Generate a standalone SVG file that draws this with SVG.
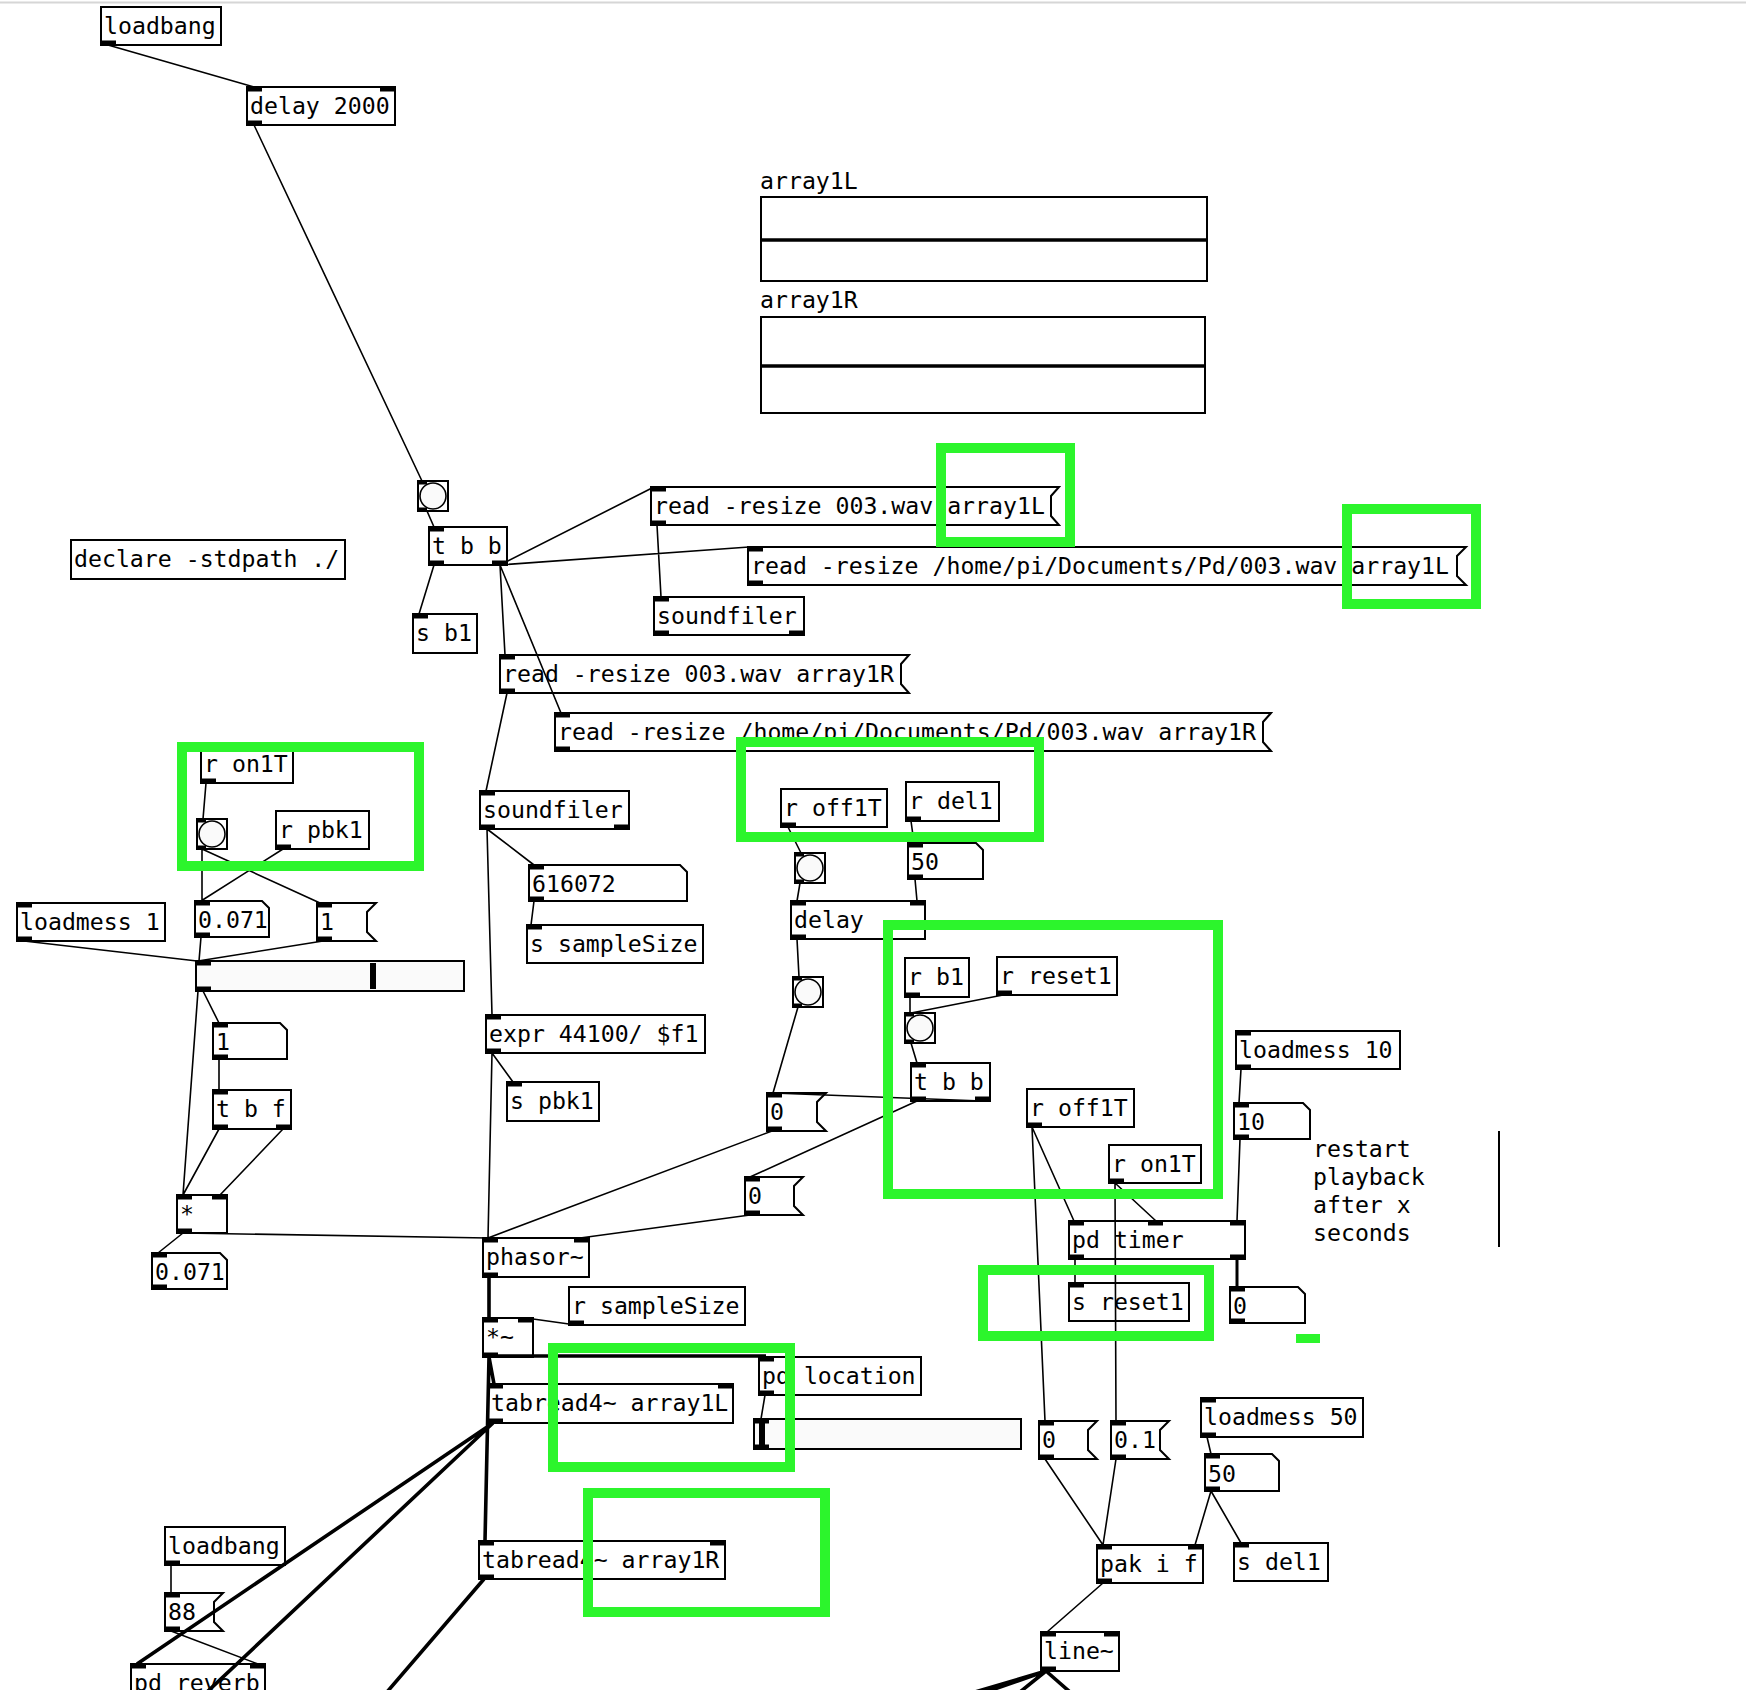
<svg xmlns="http://www.w3.org/2000/svg" width="1746" height="1690" viewBox="0 0 1746 1690">
<style>
.b{fill:none;stroke:#000;stroke-width:2}
.t{font-family:"DejaVu Sans Mono","Liberation Mono",monospace;font-size:23.2px;fill:#000;transform:translateY(1px)}
.io{fill:#000}
.c{stroke:#000;stroke-width:1.6;fill:none}
.s{stroke:#000;stroke-width:3.6;fill:none}
.g{fill:none;stroke:#2cf52c;stroke-width:10}
.bg{fill:#fafafa;stroke:#000;stroke-width:1.6}
.hs{fill:#fafafa;stroke:#000;stroke-width:2}
</style>
<rect x="0" y="0" width="1746" height="1690" fill="#fff"/>
<rect x="0" y="1.5" width="1746" height="2" fill="#d6d6d6"/>
<g id="nodes">
<g id="loadbang1"><rect class="b" x="101" y="7" width="120" height="38"/><text class="t" x="104" y="33">loadbang</text><rect class="io" x="101" y="40.5" width="15" height="5"/></g>
<g id="delay2000"><rect class="b" x="247" y="87" width="148" height="38"/><text class="t" x="250" y="113">delay 2000</text><rect class="io" x="247" y="86.5" width="15" height="5"/><rect class="io" x="380" y="86.5" width="15" height="5"/><rect class="io" x="247" y="120.5" width="15" height="5"/></g>
<g id="graph1L"><text class="t" x="760" y="188">array1L</text><rect class="b" x="761" y="197" width="446" height="84"/><line x1="761" y1="240" x2="1207" y2="240" stroke="#000" stroke-width="3.5"/></g>
<g id="graph1R"><text class="t" x="760" y="307">array1R</text><rect class="b" x="761" y="317" width="444" height="96"/><line x1="761" y1="366" x2="1205" y2="366" stroke="#000" stroke-width="3.5"/></g>
<g id="bng1"><rect class="b" x="418" y="481" width="30" height="30"/><circle class="bg" cx="433" cy="496" r="13"/><rect class="io" x="418" y="480.5" width="9" height="4"/><rect class="io" x="418" y="507.5" width="9" height="4"/></g>
<g id="tbb1"><rect class="b" x="429" y="527" width="78" height="38"/><text class="t" x="432" y="553">t b b</text><rect class="io" x="429" y="526.5" width="15" height="5"/><rect class="io" x="429" y="560.5" width="15" height="5"/><rect class="io" x="492" y="560.5" width="15" height="5"/></g>
<g id="sb1"><rect class="b" x="413" y="614" width="64" height="39"/><text class="t" x="416" y="640">s b1</text><rect class="io" x="413" y="613.5" width="15" height="5"/></g>
<g id="declare"><rect class="b" x="71" y="540" width="274" height="39"/><text class="t" x="74" y="566">declare -stdpath ./</text></g>
<g id="msg1"><path class="b" d="M651,487 H1059 L1051,496 V516 L1059,525 H651 Z"/><text class="t" x="654" y="513">read -resize 003.wav array1L</text><rect class="io" x="651" y="486.5" width="15" height="5"/><rect class="io" x="651" y="520.5" width="15" height="5"/></g>
<g id="msg2"><path class="b" d="M748,547 H1466 L1457,556 V576 L1466,585 H748 Z"/><text class="t" x="751" y="573">read -resize /home/pi/Documents/Pd/003.wav array1L</text><rect class="io" x="748" y="546.5" width="15" height="5"/><rect class="io" x="748" y="580.5" width="15" height="5"/></g>
<g id="soundfilerR"><rect class="b" x="654" y="597" width="150" height="38"/><text class="t" x="657" y="623">soundfiler</text><rect class="io" x="654" y="596.5" width="15" height="5"/><rect class="io" x="654" y="630.5" width="15" height="5"/><rect class="io" x="789" y="630.5" width="15" height="5"/></g>
<g id="msg3"><path class="b" d="M500,655 H909 L901,664 V684 L909,693 H500 Z"/><text class="t" x="503" y="681">read -resize 003.wav array1R</text><rect class="io" x="500" y="654.5" width="15" height="5"/><rect class="io" x="500" y="688.5" width="15" height="5"/></g>
<g id="msg4"><path class="b" d="M555,713 H1271 L1263,722 V742 L1271,751 H555 Z"/><text class="t" x="558" y="739">read -resize /home/pi/Documents/Pd/003.wav array1R</text><rect class="io" x="555" y="712.5" width="15" height="5"/><rect class="io" x="555" y="746.5" width="15" height="5"/></g>
<g id="soundfilerL"><rect class="b" x="480" y="791" width="149" height="38"/><text class="t" x="483" y="817">soundfiler</text><rect class="io" x="480" y="790.5" width="15" height="5"/><rect class="io" x="480" y="824.5" width="15" height="5"/><rect class="io" x="614" y="824.5" width="15" height="5"/></g>
<g id="atom616072"><path class="b" d="M529,865 H680 L687,872 V901 H529 Z"/><text class="t" x="532" y="891">616072</text><rect class="io" x="529" y="864.5" width="15" height="5"/><rect class="io" x="529" y="896.5" width="15" height="5"/></g>
<g id="sSampleSize"><rect class="b" x="527" y="925" width="176" height="38"/><text class="t" x="530" y="951">s sampleSize</text><rect class="io" x="527" y="924.5" width="15" height="5"/></g>
<g id="ron1T"><rect class="b" x="201" y="745" width="92" height="38"/><text class="t" x="204" y="771">r on1T</text><rect class="io" x="201" y="778.5" width="15" height="5"/></g>
<g id="bng2"><rect class="b" x="197" y="819" width="30" height="30"/><circle class="bg" cx="212" cy="834" r="13"/><rect class="io" x="197" y="818.5" width="9" height="4"/><rect class="io" x="197" y="845.5" width="9" height="4"/></g>
<g id="rpbk1"><rect class="b" x="276" y="811" width="93" height="38"/><text class="t" x="279" y="837">r pbk1</text><rect class="io" x="276" y="844.5" width="15" height="5"/></g>
<g id="loadmess1"><rect class="b" x="17" y="903" width="148" height="38"/><text class="t" x="20" y="929">loadmess 1</text><rect class="io" x="17" y="902.5" width="15" height="5"/><rect class="io" x="17" y="936.5" width="15" height="5"/></g>
<g id="atom0071"><path class="b" d="M195,901 H262 L269,908 V937 H195 Z"/><text class="t" x="198" y="927">0.071</text><rect class="io" x="195" y="900.5" width="15" height="5"/><rect class="io" x="195" y="932.5" width="15" height="5"/></g>
<g id="msgOne"><path class="b" d="M317,903 H376 L367,912 V932 L376,941 H317 Z"/><text class="t" x="320" y="929">1</text><rect class="io" x="317" y="902.5" width="15" height="5"/><rect class="io" x="317" y="936.5" width="15" height="5"/></g>
<g id="hslider1"><rect class="hs" x="196" y="961" width="268" height="30"/><rect class="io" x="370" y="963" width="6" height="26"/><rect class="io" x="196" y="960.5" width="15" height="5"/><rect class="io" x="196" y="986.5" width="15" height="5"/></g>
<g id="atomOne"><path class="b" d="M213,1023 H280 L287,1030 V1059 H213 Z"/><text class="t" x="216" y="1049">1</text><rect class="io" x="213" y="1022.5" width="15" height="5"/><rect class="io" x="213" y="1054.5" width="15" height="5"/></g>
<g id="tbf"><rect class="b" x="213" y="1090" width="78" height="39"/><text class="t" x="216" y="1116">t b f</text><rect class="io" x="213" y="1089.5" width="15" height="5"/><rect class="io" x="213" y="1124.5" width="15" height="5"/><rect class="io" x="276" y="1124.5" width="15" height="5"/></g>
<g id="mul"><rect class="b" x="177" y="1195" width="50" height="38"/><text class="t" x="180" y="1221">*</text><rect class="io" x="177" y="1194.5" width="15" height="5"/><rect class="io" x="212" y="1194.5" width="15" height="5"/><rect class="io" x="177" y="1228.5" width="15" height="5"/></g>
<g id="atom0071b"><path class="b" d="M152,1253 H220 L227,1260 V1289 H152 Z"/><text class="t" x="155" y="1279">0.071</text><rect class="io" x="152" y="1252.5" width="15" height="5"/><rect class="io" x="152" y="1284.5" width="15" height="5"/></g>
<g id="expr"><rect class="b" x="486" y="1015" width="219" height="38"/><text class="t" x="489" y="1041">expr 44100/ $f1</text><rect class="io" x="486" y="1014.5" width="15" height="5"/><rect class="io" x="486" y="1048.5" width="15" height="5"/></g>
<g id="spbk1"><rect class="b" x="507" y="1082" width="92" height="39"/><text class="t" x="510" y="1108">s pbk1</text><rect class="io" x="507" y="1081.5" width="15" height="5"/></g>
<g id="phasor"><rect class="b" x="483" y="1238" width="106" height="39"/><text class="t" x="486" y="1264">phasor~</text><rect class="io" x="483" y="1237.5" width="15" height="5"/><rect class="io" x="574" y="1237.5" width="15" height="5"/><rect class="io" x="483" y="1272.5" width="15" height="5"/></g>
<g id="roff1T"><rect class="b" x="781" y="789" width="106" height="38"/><text class="t" x="784" y="815">r off1T</text><rect class="io" x="781" y="822.5" width="15" height="5"/></g>
<g id="rdel1"><rect class="b" x="906" y="782" width="93" height="39"/><text class="t" x="909" y="808">r del1</text><rect class="io" x="906" y="816.5" width="15" height="5"/></g>
<g id="bng3"><rect class="b" x="795" y="853" width="30" height="30"/><circle class="bg" cx="810" cy="868" r="13"/><rect class="io" x="795" y="852.5" width="9" height="4"/><rect class="io" x="795" y="879.5" width="9" height="4"/></g>
<g id="atom50"><path class="b" d="M908,843 H976 L983,850 V879 H908 Z"/><text class="t" x="911" y="869">50</text><rect class="io" x="908" y="842.5" width="15" height="5"/><rect class="io" x="908" y="874.5" width="15" height="5"/></g>
<g id="delay"><rect class="b" x="791" y="901" width="134" height="38"/><text class="t" x="794" y="927">delay</text><rect class="io" x="791" y="900.5" width="15" height="5"/><rect class="io" x="910" y="900.5" width="15" height="5"/><rect class="io" x="791" y="934.5" width="15" height="5"/></g>
<g id="bng4"><rect class="b" x="793" y="977" width="30" height="30"/><circle class="bg" cx="808" cy="992" r="13"/><rect class="io" x="793" y="976.5" width="9" height="4"/><rect class="io" x="793" y="1003.5" width="9" height="4"/></g>
<g id="rb1"><rect class="b" x="905" y="958" width="64" height="39"/><text class="t" x="908" y="984">r b1</text><rect class="io" x="905" y="992.5" width="15" height="5"/></g>
<g id="rreset1"><rect class="b" x="997" y="957" width="120" height="38"/><text class="t" x="1000" y="983">r reset1</text><rect class="io" x="997" y="990.5" width="15" height="5"/></g>
<g id="bng5"><rect class="b" x="905" y="1013" width="30" height="30"/><circle class="bg" cx="920" cy="1028" r="13"/><rect class="io" x="905" y="1012.5" width="9" height="4"/><rect class="io" x="905" y="1039.5" width="9" height="4"/></g>
<g id="tbb2"><rect class="b" x="911" y="1063" width="79" height="38"/><text class="t" x="914" y="1089">t b b</text><rect class="io" x="911" y="1062.5" width="15" height="5"/><rect class="io" x="911" y="1096.5" width="15" height="5"/><rect class="io" x="975" y="1096.5" width="15" height="5"/></g>
<g id="msg0a"><path class="b" d="M767,1093 H826 L817,1102 V1122 L826,1131 H767 Z"/><text class="t" x="770" y="1119">0</text><rect class="io" x="767" y="1092.5" width="15" height="5"/><rect class="io" x="767" y="1126.5" width="15" height="5"/></g>
<g id="msg0b"><path class="b" d="M745,1177 H803 L794,1186 V1206 L803,1215 H745 Z"/><text class="t" x="748" y="1203">0</text><rect class="io" x="745" y="1176.5" width="15" height="5"/><rect class="io" x="745" y="1210.5" width="15" height="5"/></g>
<g id="roff1T2"><rect class="b" x="1027" y="1089" width="107" height="38"/><text class="t" x="1030" y="1115">r off1T</text><rect class="io" x="1027" y="1122.5" width="15" height="5"/></g>
<g id="ron1T2"><rect class="b" x="1109" y="1145" width="92" height="38"/><text class="t" x="1112" y="1171">r on1T</text><rect class="io" x="1109" y="1178.5" width="15" height="5"/></g>
<g id="loadmess10"><rect class="b" x="1236" y="1031" width="164" height="38"/><text class="t" x="1239" y="1057">loadmess 10</text><rect class="io" x="1236" y="1030.5" width="15" height="5"/><rect class="io" x="1236" y="1064.5" width="15" height="5"/></g>
<g id="atom10"><path class="b" d="M1234,1103 H1303 L1310,1110 V1139 H1234 Z"/><text class="t" x="1237" y="1129">10</text><rect class="io" x="1234" y="1102.5" width="15" height="5"/><rect class="io" x="1234" y="1134.5" width="15" height="5"/></g>
<g id="comment"><text class="t" x="1313" y="1156">restart</text><text class="t" x="1313" y="1184">playback</text><text class="t" x="1313" y="1212">after x</text><text class="t" x="1313" y="1240">seconds</text><line x1="1499" y1="1131" x2="1499" y2="1247" stroke="#000" stroke-width="2"/></g>
<g id="pdtimer"><rect class="b" x="1069" y="1221" width="176" height="38"/><text class="t" x="1072" y="1247">pd timer</text><rect class="io" x="1069" y="1220.5" width="15" height="5"/><rect class="io" x="1148" y="1220.5" width="15" height="5"/><rect class="io" x="1230" y="1220.5" width="15" height="5"/><rect class="io" x="1069" y="1254.5" width="15" height="5"/><rect class="io" x="1230" y="1254.5" width="15" height="5"/></g>
<g id="sreset1"><rect class="b" x="1069" y="1283" width="120" height="38"/><text class="t" x="1072" y="1309">s reset1</text><rect class="io" x="1069" y="1282.5" width="15" height="5"/></g>
<g id="atom0r"><path class="b" d="M1230,1287 H1298 L1305,1294 V1323 H1230 Z"/><text class="t" x="1233" y="1313">0</text><rect class="io" x="1230" y="1286.5" width="15" height="5"/><rect class="io" x="1230" y="1318.5" width="15" height="5"/></g>
<g id="msg0c"><path class="b" d="M1039,1421 H1097 L1088,1430 V1450 L1097,1459 H1039 Z"/><text class="t" x="1042" y="1447">0</text><rect class="io" x="1039" y="1420.5" width="15" height="5"/><rect class="io" x="1039" y="1454.5" width="15" height="5"/></g>
<g id="msg01"><path class="b" d="M1111,1421 H1169 L1160,1430 V1450 L1169,1459 H1111 Z"/><text class="t" x="1114" y="1447">0.1</text><rect class="io" x="1111" y="1420.5" width="15" height="5"/><rect class="io" x="1111" y="1454.5" width="15" height="5"/></g>
<g id="loadmess50"><rect class="b" x="1201" y="1398" width="162" height="39"/><text class="t" x="1204" y="1424">loadmess 50</text><rect class="io" x="1201" y="1397.5" width="15" height="5"/><rect class="io" x="1201" y="1432.5" width="15" height="5"/></g>
<g id="atom50b"><path class="b" d="M1205,1454 H1272 L1279,1461 V1491 H1205 Z"/><text class="t" x="1208" y="1481">50</text><rect class="io" x="1205" y="1453.5" width="15" height="5"/><rect class="io" x="1205" y="1486.5" width="15" height="5"/></g>
<g id="pakif"><rect class="b" x="1097" y="1545" width="106" height="38"/><text class="t" x="1100" y="1571">pak i f</text><rect class="io" x="1097" y="1544.5" width="15" height="5"/><rect class="io" x="1188" y="1544.5" width="15" height="5"/><rect class="io" x="1097" y="1578.5" width="15" height="5"/></g>
<g id="sdel1"><rect class="b" x="1234" y="1543" width="94" height="38"/><text class="t" x="1237" y="1569">s del1</text><rect class="io" x="1234" y="1542.5" width="15" height="5"/></g>
<g id="line"><rect class="b" x="1041" y="1632" width="78" height="39"/><text class="t" x="1044" y="1658">line~</text><rect class="io" x="1041" y="1631.5" width="15" height="5"/><rect class="io" x="1104" y="1631.5" width="15" height="5"/><rect class="io" x="1041" y="1666.5" width="15" height="5"/></g>
<g id="mulsig"><rect class="b" x="483" y="1318" width="50" height="39"/><text class="t" x="486" y="1344">*~</text><rect class="io" x="483" y="1317.5" width="15" height="5"/><rect class="io" x="518" y="1317.5" width="15" height="5"/><rect class="io" x="483" y="1352.5" width="15" height="5"/></g>
<g id="rSampleSize"><rect class="b" x="569" y="1287" width="176" height="38"/><text class="t" x="572" y="1313">r sampleSize</text><rect class="io" x="569" y="1320.5" width="15" height="5"/></g>
<g id="tabreadL"><rect class="b" x="488" y="1384" width="245" height="39"/><text class="t" x="491" y="1410">tabread4~ array1L</text><rect class="io" x="488" y="1383.5" width="15" height="5"/><rect class="io" x="718" y="1383.5" width="15" height="5"/><rect class="io" x="488" y="1418.5" width="15" height="5"/></g>
<g id="pdlocation"><rect class="b" x="759" y="1357" width="162" height="38"/><text class="t" x="762" y="1383">pd location</text><rect class="io" x="759" y="1356.5" width="15" height="5"/><rect class="io" x="759" y="1390.5" width="15" height="5"/></g>
<g id="hslider2"><rect class="hs" x="754" y="1419" width="267" height="30"/><rect class="io" x="759" y="1421" width="6" height="26"/><rect class="io" x="754" y="1418.5" width="15" height="5"/><rect class="io" x="754" y="1444.5" width="15" height="5"/></g>
<g id="tabreadR"><rect class="b" x="479" y="1541" width="246" height="38"/><text class="t" x="482" y="1567">tabread4~ array1R</text><rect class="io" x="479" y="1540.5" width="15" height="5"/><rect class="io" x="710" y="1540.5" width="15" height="5"/><rect class="io" x="479" y="1574.5" width="15" height="5"/></g>
<g id="loadbang2"><rect class="b" x="165" y="1527" width="120" height="38"/><text class="t" x="168" y="1553">loadbang</text><rect class="io" x="165" y="1560.5" width="15" height="5"/></g>
<g id="msg88"><path class="b" d="M165,1593 H223 L214,1602 V1622 L223,1631 H165 Z"/><text class="t" x="168" y="1619">88</text><rect class="io" x="165" y="1592.5" width="15" height="5"/><rect class="io" x="165" y="1626.5" width="15" height="5"/></g>
<g id="pdreverb"><rect class="b" x="131" y="1664" width="134" height="40"/><text class="t" x="134" y="1690">pd reverb</text><rect class="io" x="131" y="1663.5" width="15" height="5"/><rect class="io" x="250" y="1663.5" width="15" height="5"/></g>
</g>
<g id="connectors">
<path class="c" d="M108,45 L254,87 M254,125 L422,481 M427,511 L434,527 M434,565 L419,614 M500,565 L652,488 M500,565 L749,547 M500,565 L505,655 M500,565 L561,713 M657,525 L661,597 M507,693 L486,791 M487,829 L534,865 M487,829 L492,1015 M534,901 L531,925 M206,783 L203,819 M202,849 L202,901 M202,849 L320,903 M283,849 L201,901 M24,941 L197,961 M201,937 L199,961 M323,941 L198,961 M203,991 L219,1023 M198,991 L183,1195 M219,1059 L219,1090 M219,1129 L183,1195 M283,1129 L220,1195 M183,1233 L158,1253 M183,1233 L488,1238 M492,1053 L513,1082 M492,1053 L488,1238 M772,1131 L488,1238 M750,1215 L580,1238 M788,827 L801,853 M911,821 L914,843 M800,883 L797,901 M915,879 L917,901 M797,939 L799,977 M798,1007 L773,1093 M910,997 L910,1013 M1003,995 L911,1013 M911,1043 L917,1063 M982,1101 L773,1093 M917,1101 L750,1177 M1032,1127 L1074,1221 M1032,1127 L1045,1421 M1115,1183 L1156,1221 M1115,1183 L1116,1421 M1241,1069 L1239,1103 M1240,1139 L1237,1221 M1075,1259 L1075,1283 M1045,1459 L1103,1545 M1116,1459 L1103,1545 M1207,1437 L1211,1454 M1211,1491 L1195,1545 M1211,1491 L1241,1543 M1103,1583 L1047,1632 M765,1395 L761,1419 M576,1325 L526,1318 M171,1565 L171,1593 M171,1631 L258,1664"/>
<path d="M1237,1259 L1237,1287" stroke="#000" stroke-width="3" fill="none"/>
<path class="s" d="M489,1277 L489,1318 M489,1357 L494,1384 M489,1357 L485,1541 M489,1356 L766,1356 M493,1423 L137,1664 M493,1423 L207,1692 M484,1579 L387,1692 M1046,1671 L975,1692 M1046,1671 L986,1692 M1046,1671 L1020,1692 M1046,1671 L1070,1692"/>
</g>
<g id="highlights">
<rect class="g" x="182" y="747" width="237" height="119"/>
<rect class="g" x="941" y="448" width="129" height="94"/>
<rect class="g" x="1347" y="509" width="129" height="95"/>
<rect class="g" x="741" y="742" width="298" height="95"/>
<rect class="g" x="888" y="925" width="330" height="269"/>
<rect class="g" x="983" y="1270" width="226" height="66"/>
<rect class="g" x="553" y="1348" width="237" height="119"/>
<rect class="g" x="588" y="1493" width="237" height="119"/>
<rect x="1296" y="1334" width="24" height="9" fill="#2cf52c"/>
</g>
</svg>
